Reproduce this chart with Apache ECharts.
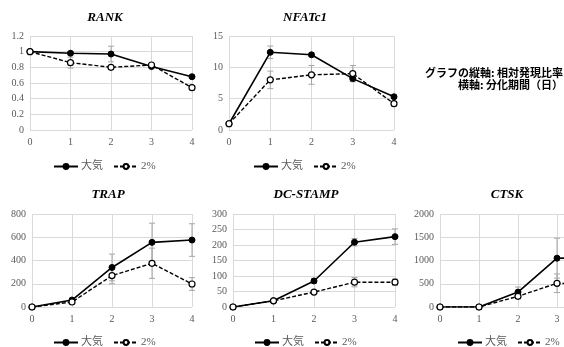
<!DOCTYPE html>
<html>
<head>
<meta charset="utf-8">
<script src="https://cdn.jsdelivr.net/npm/echarts@6/dist/echarts.min.js"></script>
<style>
  html, body { margin: 0; padding: 0; background: #fff; }
  #chart { width: 564px; height: 347px; }
</style>
</head>
<body>
<div id="chart"></div>
<script>
const days = [0, 1, 2, 3, 4]
const seriesNames = ['大気', '2%']

// 相対発現比率
const rankAir = [1, 0.98, 0.97, 0.81, 0.68]
const rankAirErr = [0, 0.02, 0.1, 0.02, 0.02]
const rank2 = [1, 0.86, 0.8, 0.83, 0.54]
const rank2Err = [0, 0.07, 0.02, 0.02, 0.02]

const nfatAir = [1, 12.4, 12.0, 8.2, 5.3]
const nfatAirErr = [0, 1.0, 0.3, 0.4, 0.3]
const nfat2 = [1, 8.0, 8.8, 9.0, 4.2]
const nfat2Err = [0, 1.4, 1.5, 1.3, 0.3]

const trapAir = [0, 60, 340, 556, 576]
const trapAirErr = [0, 10, 115, 165, 140]
const trap2 = [0, 43, 270, 376, 198]
const trap2Err = [0, 8, 70, 130, 55]

const dcAir = [0, 20, 84, 209, 227]
const dcAirErr = [0, 3, 8, 12, 25]
const dc2 = [0, 20, 48, 80, 80]
const dc2Err = [0, 3, 5, 15, 10]

const ctskAir = [0, 0, 320, 1050, 1060]
const ctskAirErr = [0, 0, 110, 430, 300]
const ctsk2 = [0, 0, 230, 510, 480]
const ctsk2Err = [0, 0, 50, 200, 150]

const noteLines = ['グラフの縦軸: 相対発現比率', '横軸: 分化期間（日）']

const panels = [
  { title: 'RANK', max: 1.2, interval: 0.2, air: rankAir, airErr: rankAirErr, o2: rank2, o2Err: rank2Err,
    grid: { left: 30, top: 36, width: 162, height: 94 }, titlePos: [105, 11], legendPos: [48, 156] },
  { title: 'NFATc1', max: 15, interval: 5, air: nfatAir, airErr: nfatAirErr, o2: nfat2, o2Err: nfat2Err,
    grid: { left: 229, top: 36, width: 165, height: 94 }, titlePos: [305, 11], legendPos: [248, 156] },
  { title: 'TRAP', max: 800, interval: 200, air: trapAir, airErr: trapAirErr, o2: trap2, o2Err: trap2Err,
    grid: { left: 32, top: 214, width: 160, height: 93 }, titlePos: [108, 188], legendPos: [48, 332] },
  { title: 'DC-STAMP', max: 300, interval: 50, air: dcAir, airErr: dcAirErr, o2: dc2, o2Err: dc2Err,
    grid: { left: 233, top: 214, width: 162, height: 93 }, titlePos: [306, 188], legendPos: [249, 332] },
  { title: 'CTSK', max: 2000, interval: 500, air: ctskAir, airErr: ctskAirErr, o2: ctsk2, o2Err: ctsk2Err,
    grid: { left: 440, top: 214, width: 156, height: 93 }, titlePos: [507, 188], legendPos: [452, 332] }
]

const labelStyle = { color: '#595959', fontFamily: 'Liberation Serif', fontSize: 10 }
const gridLine = { lineStyle: { color: '#d9d9d9', width: 1 } }

const errorBar = (gi, name, vals, errs, color) => ({
  type: 'custom',
  name: name + '-err',
  xAxisIndex: gi,
  yAxisIndex: gi,
  z: 1,
  silent: true,
  data: days.map((d, i) => [d, vals[i] - errs[i], vals[i] + errs[i]]),
  renderItem: (params, api) => {
    const lo = api.coord([api.value(0), api.value(1)])
    const hi = api.coord([api.value(0), api.value(2)])
    const cap = 3
    const st = { stroke: color, lineWidth: 1 }
    return {
      type: 'group',
      children: [
        { type: 'line', shape: { x1: lo[0], y1: lo[1], x2: hi[0], y2: hi[1] }, style: st },
        { type: 'line', shape: { x1: lo[0] - cap, y1: lo[1], x2: lo[0] + cap, y2: lo[1] }, style: st },
        { type: 'line', shape: { x1: hi[0] - cap, y1: hi[1], x2: hi[0] + cap, y2: hi[1] }, style: st }
      ]
    }
  }
})

const grids = []
const xAxes = []
const yAxes = []
const series = []
const legends = []
const graphics = []

panels.forEach((p, gi) => {
  grids.push(Object.assign({ containLabel: false, outerBoundsMode: 'none' }, p.grid))
  xAxes.push({
    type: 'value', gridIndex: gi, min: 0, max: 4, interval: 1,
    axisLine: { show: false }, axisTick: { show: false },
    axisLabel: Object.assign({ margin: 7 }, labelStyle),
    splitLine: gridLine
  })
  yAxes.push({
    type: 'value', gridIndex: gi, min: 0, max: p.max, interval: p.interval,
    axisLine: { show: false }, axisTick: { show: false },
    axisLabel: Object.assign({ margin: 6, formatter: (v) => String(v) }, labelStyle),
    splitLine: gridLine
  })
  series.push(errorBar(gi, '大気', p.air, p.airErr, '#a6a6a6'))
  series.push(errorBar(gi, '2%', p.o2, p.o2Err, '#a6a6a6'))
  series.push({
    type: 'line', name: '大気', xAxisIndex: gi, yAxisIndex: gi, z: 3,
    data: days.map((d, i) => [d, p.air[i]]),
    symbol: 'circle', symbolSize: 6,
    lineStyle: { color: '#000', width: 1.6 },
    itemStyle: { color: '#000', borderColor: '#000', borderWidth: 1 }
  })
  series.push({
    type: 'line', name: '2%', xAxisIndex: gi, yAxisIndex: gi, z: 4,
    data: days.map((d, i) => [d, p.o2[i]]),
    symbol: 'circle', symbolSize: 6,
    lineStyle: { color: '#000', width: 1.4, type: [4, 2] },
    itemStyle: { color: '#fff', borderColor: '#000', borderWidth: 1.2 }
  })
  legends.push({
    data: seriesNames,
    left: p.legendPos[0], top: p.legendPos[1], width: 200,
    itemWidth: 24, itemHeight: 6, itemGap: 10,
    selectedMode: false,
    textStyle: { color: '#595959', fontSize: 11, fontFamily: '"Liberation Serif", "Noto Sans CJK JP"', padding: [0, 0, 0, -2] }
  })
  graphics.push({
    type: 'text', x: p.titlePos[0], y: p.titlePos[1],
    style: {
      text: p.title, textAlign: 'center', fill: '#000',
      font: 'italic bold 13px "Liberation Serif"'
    }
  })
})

noteLines.forEach((line, i) => {
  graphics.push({
    type: 'text', right: 1, top: 67 + i * 12,
    style: {
      text: line, fill: '#000',
      font: 'bold 11px "Noto Sans CJK JP"'
    }
  })
})

const chart = echarts.init(document.getElementById('chart'))
chart.setOption({
  animation: false,
  backgroundColor: '#fff',
  grid: grids,
  xAxis: xAxes,
  yAxis: yAxes,
  legend: legends,
  graphic: graphics,
  series: series
})
</script>
</body>
</html>
